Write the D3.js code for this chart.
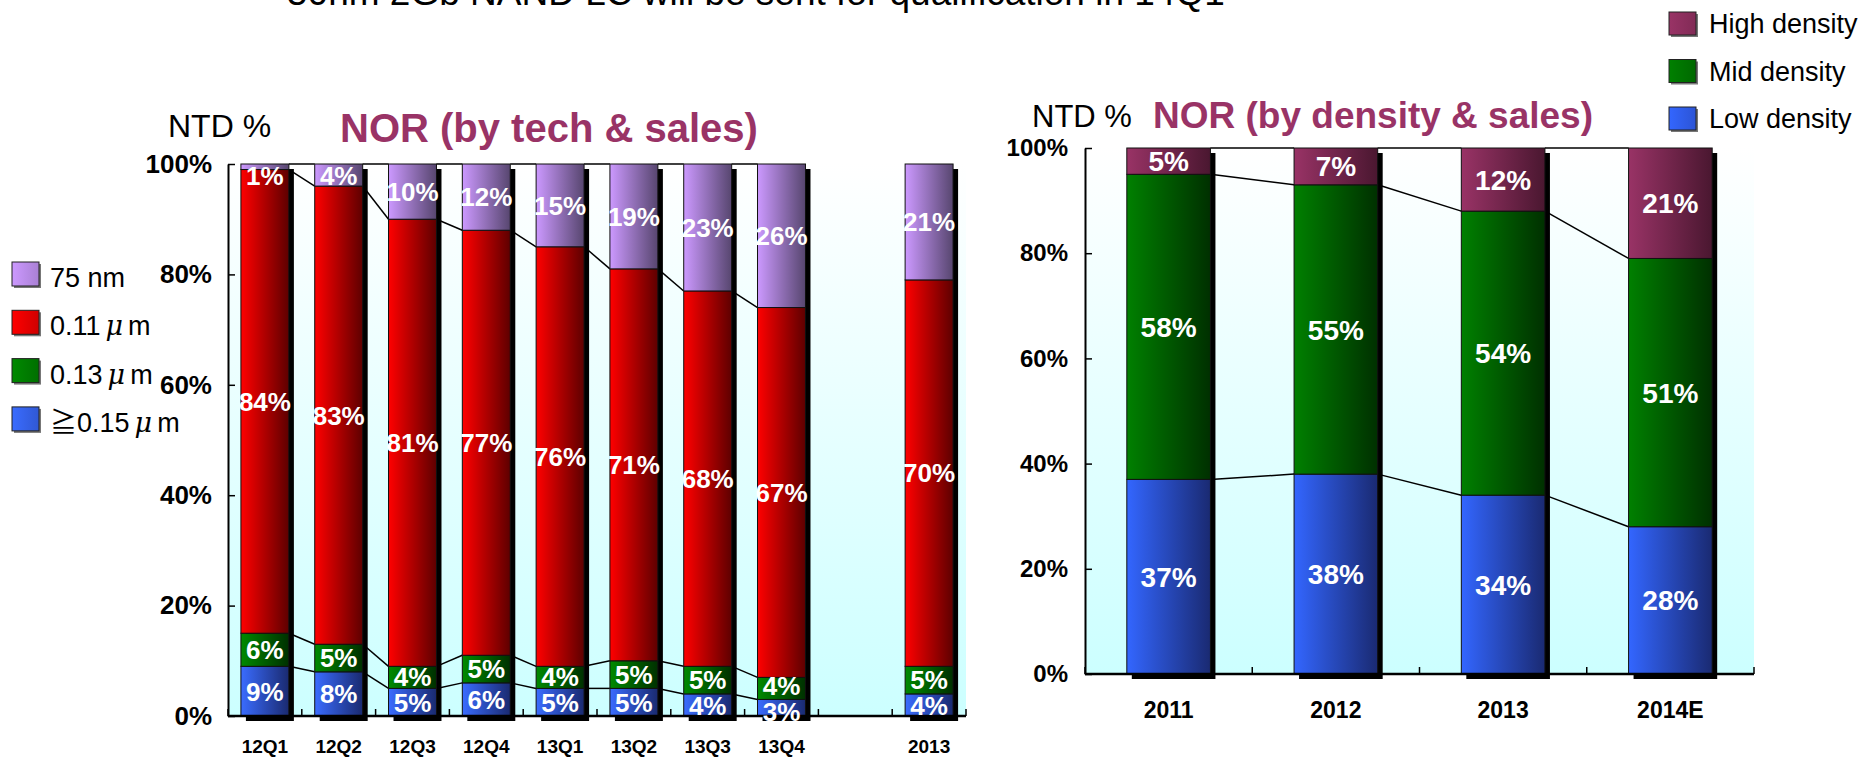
<!DOCTYPE html>
<html><head><meta charset="utf-8">
<script src="https://cdn.jsdelivr.net/npm/d3@7"></script>
<style>
html,body{margin:0;padding:0;background:#fff;}
svg{display:block;font-family:"Liberation Sans",Arial,sans-serif;}
</style></head>
<body>
<svg id="chart" width="1872" height="758"></svg>
<script>
// ---------- DATA ----------
const headline = "50nm 2Gb NAND LC will be sent for qualification in 14Q1";
const leftTitle = "NOR (by tech & sales)";
const rightTitle = "NOR (by density & sales)";
const unitLabel = "NTD %";
const yTicks = [0, 20, 40, 60, 80, 100];

const techCats = ["12Q1","12Q2","12Q3","12Q4","13Q1","13Q2","13Q3","13Q4","","2013"];
const techGe015 = [9, 8, 5, 6, 5, 5, 4, 3, null, 4];
const tech013   = [6, 5, 4, 5, 4, 5, 5, 4, null, 5];
const tech011   = [84, 83, 81, 77, 76, 71, 68, 67, null, 70];
const tech75nm  = [1, 4, 10, 12, 15, 19, 23, 26, null, 21];
const techSeriesNames = ["≧0.15μm", "0.13μm", "0.11μm", "75 nm"];

const densCats = ["2011","2012","2013","2014E"];
const densLow  = [37, 38, 34, 28];
const densMid  = [58, 55, 54, 51];
const densHigh = [5, 7, 12, 21];
const densSeriesNames = ["Low density", "Mid density", "High density"];

// ---------- STYLE ----------
const techColors = [["#3a6cff","#1a2a70"],["#008a00","#003000"],["#ff0000","#5e0000"],["#cc99ff","#57466f"]];
const densColors = [["#3366ff","#1a2a72"],["#008000","#003000"],["#993366","#4a1730"]];
const titleColor = "#993366";

const svg = d3.select("#chart");
const defs = svg.append("defs");
function grad(id, c0, c1){
  const g = defs.append("linearGradient").attr("id", id).attr("x1",0).attr("x2",1).attr("y1",0).attr("y2",0);
  g.append("stop").attr("offset","0%").attr("stop-color",c0);
  g.append("stop").attr("offset","100%").attr("stop-color",c1);
}
techColors.forEach((c,i)=>{ grad("tg"+i, c[0], c[1]); grad("tl"+i, c[0], d3.interpolateRgb(c[0], c[1])(0.3)); });
densColors.forEach((c,i)=>{ grad("dg"+i, c[0], c[1]); grad("dl"+i, c[0], d3.interpolateRgb(c[0], c[1])(0.3)); });
const bg = defs.append("linearGradient").attr("id","bg").attr("x1",0).attr("x2",0).attr("y1",0).attr("y2",1);
bg.append("stop").attr("offset","0%").attr("stop-color","#ffffff");
bg.append("stop").attr("offset","100%").attr("stop-color","#ccffff");

// headline (cut at top in the reference)
svg.append("text").attr("x", 287).attr("y", 5).attr("font-size", 37).attr("fill","#000").text(headline);

function drawChart(opts){
  const {cats, series, x0, x1, y0, y1, gradPrefix, padIn, padOut, labelSize, xLabelSize, xLabelY, yLabelSize, yPad} = opts;
  const x = d3.scaleBand().domain(cats).range([x0, x1]).paddingInner(padIn).paddingOuter(padOut);
  const y = d3.scaleLinear().domain([0, 100]).range([y0, y1]);
  const g = svg.append("g");
  g.append("rect").attr("x", x0).attr("y", y1).attr("width", x1 - x0).attr("height", y0 - y1).attr("fill","url(#bg)");

  const stacks = cats.map((c, i) => {
    if (series[0][i] == null) return null;
    let acc = 0;
    return series.map((s, k) => { const lo = acc; acc += s[i]; return {k, lo, hi: acc, v: s[i]}; });
  });

  // series connector lines
  for (let i = 0; i < cats.length - 1; i++) {
    const a = stacks[i], b = stacks[i+1];
    if (!a || !b) continue;
    a.forEach((seg, k) => {
      g.append("line")
        .attr("x1", x(cats[i]) + x.bandwidth()).attr("x2", x(cats[i+1]))
        .attr("y1", y(seg.hi)).attr("y2", y(b[k].hi))
        .attr("stroke","#000").attr("stroke-width",1.5);
    });
  }

  // bars with drop shadow
  cats.forEach((c, i) => {
    const st = stacks[i];
    if (!st) return;
    const top = y(st[st.length-1].hi);
    g.append("rect").attr("x", x(c) + 5).attr("y", top + 5).attr("width", x.bandwidth())
      .attr("height", y0 - top).attr("fill","#000");
    st.forEach(seg => {
      g.append("rect").attr("x", x(c)).attr("y", y(seg.hi)).attr("width", x.bandwidth())
        .attr("height", y(seg.lo) - y(seg.hi)).attr("fill", "url(#" + gradPrefix + seg.k + ")")
        .attr("stroke","#111").attr("stroke-width",1);
    });
  });

  // axes
  const yAxis = d3.axisLeft(y).tickValues(yTicks).tickFormat(d => d + "%").tickSize(-7).tickSizeOuter(0).tickPadding(yPad);
  const ya = g.append("g").attr("transform", `translate(${x0},0)`).call(yAxis);
  ya.select(".domain").attr("stroke","#000").attr("stroke-width",2);
  ya.selectAll(".tick line").attr("stroke","#000").attr("stroke-width",1.5);
  ya.selectAll(".tick text").attr("font-size", yLabelSize).attr("font-weight","bold").attr("fill","#000")
    .attr("font-family", '"Liberation Sans",Arial,sans-serif');

  g.append("line").attr("x1", x0).attr("x2", x1).attr("y1", y0).attr("y2", y0).attr("stroke","#000").attr("stroke-width",2.5);
  for (let i = 0; i <= cats.length; i++) {
    const tx = x0 + i * x.step();
    g.append("line").attr("x1", tx).attr("x2", tx).attr("y1", y0).attr("y2", y0 - 7).attr("stroke","#000").attr("stroke-width",1.5);
  }
  cats.forEach(c => {
    g.append("text").attr("x", x(c) + x.bandwidth()/2).attr("y", xLabelY).attr("text-anchor","middle")
      .attr("font-size", xLabelSize).attr("font-weight","bold").attr("fill","#000").text(c);
  });

  // value labels (centred; small segments nudged so labels do not collide)
  cats.forEach((c, i) => {
    const st = stacks[i];
    if (!st) return;
    let prev = Infinity;
    st.forEach(seg => {
      const mid = (y(seg.lo) + y(seg.hi)) / 2;
      let ly = Math.max(mid, y(seg.hi) + 12);
      ly = Math.min(ly, prev - 26);
      prev = ly;
      g.append("text").attr("x", x(c) + x.bandwidth()/2).attr("y", ly).attr("dy","0.36em")
        .attr("text-anchor","middle").attr("font-size", labelSize).attr("font-weight","bold")
        .attr("fill","#fff").text(seg.v + "%");
    });
  });
}

drawChart({cats: techCats, series: [techGe015, tech013, tech011, tech75nm], x0: 228, x1: 966, y0: 716, y1: 164,
  gradPrefix: "tg", padIn: 0.35, padOut: 0.175, labelSize: 26, xLabelSize: 19, xLabelY: 753, yLabelSize: 26, yPad: 16});
drawChart({cats: densCats, series: [densLow, densMid, densHigh], x0: 1085, x1: 1754, y0: 674, y1: 148,
  gradPrefix: "dg", padIn: 0.5, padOut: 0.25, labelSize: 28, xLabelSize: 23, xLabelY: 718, yLabelSize: 24, yPad: 17});

// titles
svg.append("text").attr("x", 168).attr("y", 137).attr("font-size", 32).attr("fill","#000").text(unitLabel);
svg.append("text").attr("x", 340).attr("y", 142).attr("font-size", 40).attr("font-weight","bold").attr("fill", titleColor).text(leftTitle);
svg.append("text").attr("x", 1032).attr("y", 127).attr("font-size", 31).attr("fill","#000").text(unitLabel);
svg.append("text").attr("x", 1153).attr("y", 128).attr("font-size", 37).attr("font-weight","bold").attr("fill", titleColor).text(rightTitle);

// left legend (top to bottom: 75 nm, 0.11, 0.13, >=0.15)
const techLegendOrder = [3, 2, 1, 0];
techLegendOrder.forEach((k, j) => {
  const ly = 262 + j * 48.3;
  svg.append("rect").attr("x", 14).attr("y", ly + 2).attr("width", 27).attr("height", 24).attr("fill","#777");
  svg.append("rect").attr("x", 12).attr("y", ly).attr("width", 27).attr("height", 24)
    .attr("fill","url(#tl" + k + ")").attr("stroke","#222").attr("stroke-width",1);
  const t = svg.append("text").attr("x", 50).attr("y", ly + 25).attr("font-size", 27).attr("fill","#000");
  const name = techSeriesNames[k];
  const mu = name.indexOf("μ");
  if (mu < 0) { t.text(name); }
  else {
    const pre = name.slice(0, mu);
    if (pre.startsWith("≧")) {
      t.append("tspan").attr("font-family",'"Noto Sans CJK JP",sans-serif').text("≧");
      t.append("tspan").text(pre.slice(1));
    } else t.append("tspan").text(pre);
    t.append("tspan").attr("font-family",'"DejaVu Serif",serif').attr("font-style","italic").attr("dx", 5).text("μ");
    t.append("tspan").attr("dx", 5).text(name.slice(mu + 1));
  }
});

// right legend (top to bottom: High, Mid, Low)
const densLegendOrder = [2, 1, 0];
densLegendOrder.forEach((k, j) => {
  const ly = 12 + j * 47.5;
  svg.append("rect").attr("x", 1671).attr("y", ly + 2).attr("width", 27).attr("height", 23).attr("fill","#777");
  svg.append("rect").attr("x", 1669).attr("y", ly).attr("width", 27).attr("height", 23)
    .attr("fill","url(#dl" + k + ")").attr("stroke","#222").attr("stroke-width",1);
  svg.append("text").attr("x", 1709).attr("y", ly + 21).attr("font-size", 27).attr("fill","#000").text(densSeriesNames[k]);
});
</script>
</body></html>
